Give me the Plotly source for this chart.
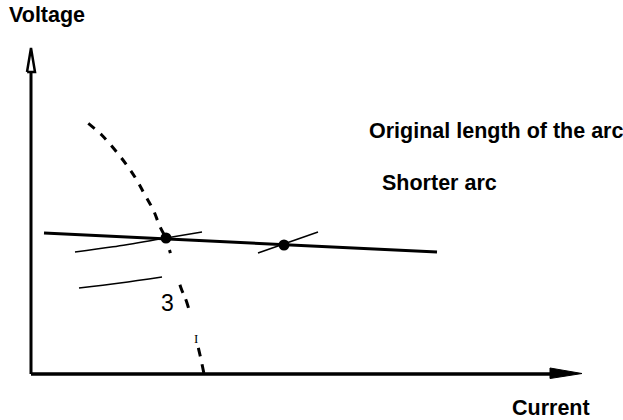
import plotly.graph_objects as go

# ---- data (chart units: current along x, voltage along y) ----
# steep drooping characteristic (dashed), upper part
steep_upper_current = [5.73, 7.07, 8.4, 9.57, 10.57, 11.4, 12.23, 12.9, 13.5]
steep_upper_voltage = [25.07, 23.9, 22.4, 20.9, 19.4, 17.9, 16.4, 14.73, 13.6]
# steep drooping characteristic (dashed), lower part
steep_lower_current = [13.85, 15.0, 15.6, 16.9, 17.3]
steep_lower_voltage = [12.4, 8.6, 7.1, 1.9, 0.0]

# flat characteristic (thick line)
flat_current = [1.3, 40.6]
flat_voltage = [14.1, 12.2]

# arc characteristics (thin lines)
arc1_current = [4.4, 8.2, 13.5, 17.1]
arc1_voltage = [12.2, 12.72, 13.6, 14.2]
arc2_current = [22.7, 28.7]
arc2_voltage = [12.1, 14.2]
arc3_current = [4.8, 8.9, 13.1]
arc3_voltage = [8.6, 9.1, 9.7]

# operating points
point_current = [13.5, 25.3]
point_voltage = [13.6, 12.9]

# axes extents
X_TIP = 55.1
Y_TIP = 32.6

x_label = "Current"
y_label = "Voltage"
label_original = "Original length of the arc"
label_shorter = "Shorter arc"
label_three = "3"
label_one = "I"

BLACK = "#000000"
fig = go.Figure()

def line(xs, ys, width, dash="solid", shape="spline"):
    fig.add_trace(go.Scatter(x=xs, y=ys, mode="lines",
                             line=dict(color=BLACK, width=width, dash=dash, shape=shape),
                             hoverinfo="skip", showlegend=False))

# axes
line([0, X_TIP - 3.2], [0, 0], 3.5, shape="linear")
line([0, 0], [0, Y_TIP - 2.4], 3, shape="linear")
# x arrow head (filled)
fig.add_trace(go.Scatter(x=[X_TIP - 3.2, X_TIP, X_TIP - 3.2, X_TIP - 3.2],
                         y=[0.6, 0.05, -0.45, 0.6], mode="lines", fill="toself",
                         fillcolor=BLACK, line=dict(color=BLACK, width=1),
                         hoverinfo="skip", showlegend=False))
# y arrow head (outlined)
fig.add_trace(go.Scatter(x=[-0.4, 0, 0.4, -0.4], y=[Y_TIP - 2.4, Y_TIP, Y_TIP - 2.4, Y_TIP - 2.4],
                         mode="lines", fill="toself", fillcolor="white",
                         line=dict(color=BLACK, width=2.5),
                         hoverinfo="skip", showlegend=False))

# curves
line(steep_upper_current, steep_upper_voltage, 3, dash="8px,8px")
line(steep_lower_current, steep_lower_voltage, 3,
     dash="3px,33px,9px,7px,9px,41px,9px,8px,9px,40px")
line(flat_current, flat_voltage, 3, shape="linear")
line(arc1_current, arc1_voltage, 1.5)
line(arc2_current, arc2_voltage, 1.5, shape="linear")
line(arc3_current, arc3_voltage, 1.5)

fig.add_trace(go.Scatter(x=point_current, y=point_voltage, mode="markers",
                         marker=dict(color=BLACK, size=11),
                         hoverinfo="skip", showlegend=False))

bold = dict(family="Liberation Sans, Arial, sans-serif", size=21.5, color=BLACK, weight="bold")
fig.add_annotation(x=1.6, y=35.9, text=y_label, showarrow=False, xanchor="center",
                   yanchor="middle", font=bold)
fig.add_annotation(x=52.0, y=-3.4, text=x_label, showarrow=False, xanchor="center",
                   yanchor="middle", font=bold)
fig.add_annotation(x=33.6, y=24.3, text=label_original, showarrow=False, xanchor="left",
                   yanchor="middle", font=bold)
fig.add_annotation(x=34.9, y=19.1, text=label_shorter, showarrow=False, xanchor="left",
                   yanchor="middle", font=bold)
fig.add_annotation(x=13.6, y=7.1, text=label_three, showarrow=False, xanchor="center",
                   yanchor="middle",
                   font=dict(family="Liberation Sans, Arial, sans-serif", size=23, color=BLACK))
fig.add_annotation(x=16.5, y=3.6, text=label_one, showarrow=False, xanchor="center",
                   yanchor="middle",
                   font=dict(family="Liberation Serif, Times New Roman, serif", size=13, color=BLACK))

fig.update_layout(width=623, height=420, margin=dict(l=0, r=0, t=0, b=0),
                  paper_bgcolor="white", plot_bgcolor="white",
                  xaxis=dict(range=[-3.1, 59.2], visible=False, fixedrange=True),
                  yaxis=dict(range=[-4.6, 37.4], visible=False, fixedrange=True),
                  showlegend=False)

fig.write_html("out.html", config={"displayModeBar": False},
               post_script="document.body.style.margin='0';document.body.style.overflow='hidden';")
